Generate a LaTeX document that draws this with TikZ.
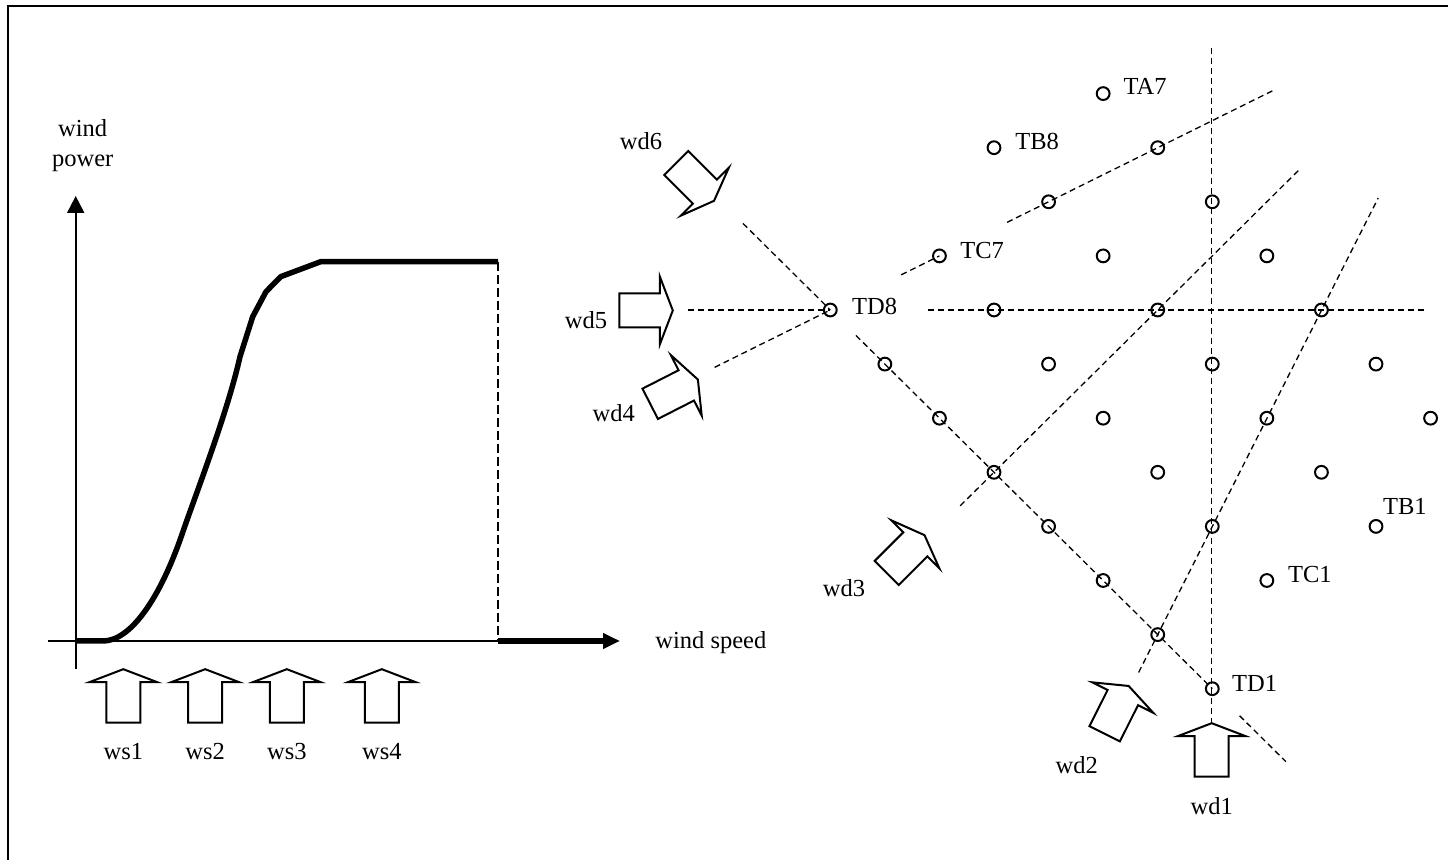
\documentclass[tikz,border=0pt]{standalone}
\usepackage{fontspec}
\setmainfont{Liberation Serif}
\usetikzlibrary{arrows.meta}
\tikzset{
  turb/.style={circle,draw,line width=1pt,inner sep=0pt,minimum size=6.4pt},
  lbl/.style={inner sep=0pt,font=\fontsize{12.25}{14}\selectfont},
  gridline/.style={line width=0.65pt,dash pattern=on 3pt off 2pt},
  axis/.style={line width=1pt},
  curve/.style={line width=2.75pt,line join=round},
  frameline/.style={line width=1.1pt},
  barrow/.pic={\draw[line width=1pt,line join=miter] (0pt,-8.5pt) -- (20.25pt,-8.5pt) -- (20.25pt,-17pt) -- (26.75pt,0pt) -- (20.25pt,17pt) -- (20.25pt,8.5pt) -- (0pt,8.5pt) -- cycle;}
}
\begin{document}
\begin{tikzpicture}[x=0.5pt,y=-0.5pt]
\useasboundingbox (0,0) rectangle (1448,860);
% frame
\draw[frameline] (8,880) -- (8,6) -- (1470,6);

% ---------------- left plot ----------------
\coordinate (yb) at (75.7,669);
\coordinate (yt) at (75.7,196);
\coordinate (xa) at (47.7,641);
\coordinate (xm) at (498,641);
\coordinate (xe) at (620,641);
\coordinate (ctop) at (498,261.7);
\draw[axis,-{Triangle[length=8.5pt,width=8.5pt]}] (yb) -- (yt);
\draw[axis] (xa) -- (xm);
\draw[curve,-{Triangle[length=8.5pt,width=7.5pt]}] (xm) -- (xe);
\draw[line width=1pt,dash pattern=on 4.5pt off 2pt] (ctop) -- (xm);
\draw[curve] (75.7,641) -- (103,641) .. controls (130,641) and (160,600) .. (183.5,530)
  .. controls (200,483) and (228,410) .. (240,356.7) -- (252.7,316.7)
  -- (266,291.7) -- (280.7,276.7) -- (320.7,261.7) -- (ctop);

\node[lbl,anchor=base] (lwind) at (82.7,136.7) {wind};
\node[lbl,anchor=base] (lpower) at (82.7,167) {power};
\node[lbl,anchor=base west] (lspeed) at (655,648.5) {wind speed};

\foreach \x/\n in {123.3/1,205.2/2,286.8/3,381.8/4}{
  \pic[rotate=90] at (\x,722.7) {barrow};
  \node[lbl,anchor=base] (ws\n) at (\x,760) {ws\n};
}

% ---------------- wind farm ----------------
\foreach \i/\r in {5/0, 3/1, 6/1, 4/2, 7/2, 2/3, 5/3, 8/3, 0/4, 3/4, 6/4, 9/4, 1/5, 4/5, 7/5, 10/5, 2/6, 5/6, 8/6, 11/6, 3/7, 6/7, 9/7, 4/8, 7/8, 10/8, 5/9, 8/9, 6/10, 7/11}
  \node[turb] (t\i-\r) at ({830.3+54.57*\i},{310+54.1*(\r-4)}) {};

% line ends
\coordinate (w6a) at ({830.3+54.57*(-1.6)},{310+54.1*(-1.6)});
\coordinate (w6b) at ({830.3+54.57*0.47},{310+54.1*0.47});
\coordinate (w6c) at ({830.3+54.57*7.5},{310+54.1*7.5});
\coordinate (w6d) at ({830.3+54.57*8.35},{310+54.1*8.35});
\coordinate (w5a) at (688,310);
\coordinate (w5b) at (928,310);
\coordinate (w5c) at (1425,310);
\coordinate (w4a) at ({830.3+54.57*(-2.12)},{310+54.1*1.06});
\coordinate (w4b) at ({830.3+54.57*1.3},{310+54.1*(-0.65)});
\coordinate (w4c) at ({830.3+54.57*3.24},{310+54.1*(-1.62)});
\coordinate (w4d) at ({830.3+54.57*8.1},{310+54.1*(-4.05)});
\coordinate (w3a) at ({830.3+54.57*2.38},{310+54.1*3.62});
\coordinate (w3b) at ({830.3+54.57*8.6},{310+54.1*(-2.6)});
\coordinate (w2a) at ({830.3+54.57*5.65},{310+54.1*6.7});
\coordinate (w2b) at ({830.3+54.57*10.04},{310+54.1*(-2.07)});
\coordinate (w1a) at (1211.7,48);
\coordinate (w1b) at (1211.7,723.2);

\draw[gridline] (w6a) -- (t0-4.center);
\draw[gridline] (w6b) -- (t7-11.center);
\draw[gridline] (w6c) -- (w6d);
\draw[gridline] (w5a) -- (t0-4.center);
\draw[gridline] (w5b) -- (w5c);
\draw[gridline] (w4a) -- (t0-4.center);
\draw[gridline] (w4b) -- (t2-3.center);
\draw[gridline] (w4c) -- (w4d);
\draw[gridline] (w3a) -- (w3b);
\draw[gridline] (w2a) -- (w2b);
\draw[gridline] (w1a) -- (w1b);

% turbine labels
\node[lbl,anchor=base west] (lTA7) at (1123.3,94.7) {TA7};
\node[lbl,anchor=base west] (lTB8) at (1015,149.7) {TB8};
\node[lbl,anchor=base west] (lTC7) at (960,258.7) {TC7};
\node[lbl,anchor=base west] (lTD8) at (851.7,314.7) {TD8};
\node[lbl,anchor=base west] (lTD1) at (1231.7,691.3) {TD1};
\node[lbl,anchor=base west] (lTC1) at (1287.7,583) {TC1};
\node[lbl,anchor=base west] (lTB1) at (1382.7,514.7) {TB1};

% wind direction arrows
\pic[rotate=90] at (1211.7,776.7) {barrow};
\pic[rotate=63.4] at (1104.7,733.8) {barrow};
\pic[rotate=45] at (886.7,573) {barrow};
\pic[rotate=27] at (650.2,403.8) {barrow};
\pic[rotate=0] at (619.3,310.5) {barrow};
\pic[rotate=-45] at (676.2,163) {barrow};

\node[lbl,anchor=base] (wd1) at (1211.7,815) {wd1};
\node[lbl,anchor=base] (wd2) at (1076.7,773.4) {wd2};
\node[lbl,anchor=base] (wd3) at (844,596.4) {wd3};
\node[lbl,anchor=base] (wd4) at (613.8,421.7) {wd4};
\node[lbl,anchor=base] (wd5) at (586,328.4) {wd5};
\node[lbl,anchor=base] (wd6) at (641,150) {wd6};
\end{tikzpicture}
\end{document}
